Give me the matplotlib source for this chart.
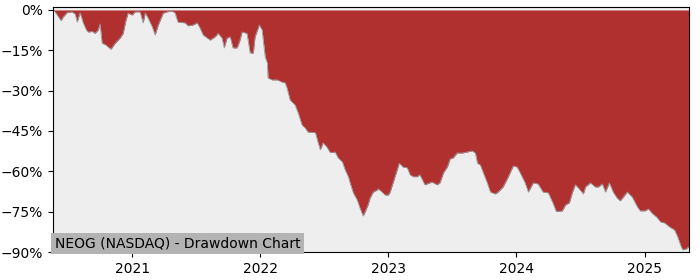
import pandas as pd
import matplotlib
matplotlib.use('Agg')
import matplotlib.pyplot as plt
import matplotlib.dates as mdates
from matplotlib.ticker import PercentFormatter, MultipleLocator

# drawdown values (%)
dates = [
    '2020-05-20', '2020-05-26', '2020-06-12', '2020-06-18', '2020-06-29', '2020-07-13',
    '2020-07-22', '2020-07-28', '2020-08-05', '2020-08-14', '2020-08-23', '2020-08-28',
    '2020-09-09', '2020-09-17', '2020-09-26', '2020-10-01', '2020-10-07', '2020-10-15',
    '2020-10-24', '2020-11-01', '2020-11-13', '2020-11-27', '2020-12-06', '2020-12-14',
    '2020-12-20', '2021-01-01', '2021-01-09', '2021-01-23', '2021-02-01', '2021-02-07',
    '2021-02-15', '2021-02-27', '2021-03-07', '2021-03-16', '2021-03-30', '2021-04-10',
    '2021-04-24', '2021-05-03', '2021-05-11', '2021-06-01', '2021-06-09', '2021-06-23',
    '2021-07-05', '2021-07-13', '2021-07-22', '2021-08-11', '2021-08-25', '2021-09-03',
    '2021-09-14', '2021-09-20', '2021-09-28', '2021-10-07', '2021-10-15', '2021-10-27',
    '2021-11-04', '2021-11-10', '2021-11-24', '2021-12-03', '2021-12-12', '2021-12-17',
    '2021-12-29', '2022-01-06', '2022-01-15', '2022-01-21', '2022-01-23', '2022-02-04',
    '2022-02-18', '2022-03-04', '2022-03-13', '2022-03-18', '2022-03-27', '2022-04-10',
    '2022-04-19', '2022-04-30', '2022-05-09', '2022-05-17', '2022-06-07', '2022-06-15',
    '2022-06-21', '2022-06-29', '2022-07-10', '2022-07-19', '2022-07-28', '2022-08-02',
    '2022-08-11', '2022-08-23', '2022-08-31', '2022-09-09', '2022-09-14', '2022-09-23',
    '2022-10-04', '2022-10-12', '2022-10-21', '2022-10-27', '2022-11-04', '2022-11-10',
    '2022-11-19', '2022-11-30', '2022-12-03', '2022-12-14', '2022-12-23', '2023-01-01',
    '2023-01-06', '2023-01-15', '2023-01-26', '2023-02-01', '2023-02-12', '2023-02-24',
    '2023-03-04', '2023-03-13', '2023-03-24', '2023-04-01', '2023-04-15', '2023-05-05',
    '2023-05-20', '2023-05-28', '2023-06-07', '2023-06-18', '2023-06-26', '2023-07-05',
    '2023-07-16', '2023-07-31', '2023-08-14', '2023-08-28', '2023-09-06', '2023-09-12',
    '2023-09-20', '2023-09-29', '2023-10-10', '2023-10-19', '2023-11-02', '2023-11-10',
    '2023-11-24', '2023-12-09', '2023-12-23', '2024-01-03', '2024-01-12', '2024-01-26',
    '2024-02-04', '2024-02-18', '2024-03-03', '2024-03-17', '2024-04-01', '2024-04-15',
    '2024-04-24', '2024-05-11', '2024-05-20', '2024-05-31', '2024-06-09', '2024-06-17',
    '2024-06-26', '2024-07-10', '2024-07-16', '2024-07-30', '2024-08-13', '2024-08-22',
    '2024-09-02', '2024-09-11', '2024-09-22', '2024-10-03', '2024-10-14', '2024-10-23',
    '2024-11-01', '2024-11-12', '2024-11-26', '2024-12-11', '2024-12-19', '2025-01-01',
    '2025-01-12', '2025-01-21', '2025-02-04', '2025-02-15', '2025-02-27', '2025-03-13',
    '2025-03-27', '2025-04-05', '2025-04-13', '2025-04-19', '2025-04-30', '2025-05-06',
]
drawdown = [
    0.0, -0.7, -4.0, -2.6, -1.0, -0.7,
    -1.5, -4.5, -1.0, -4.8, -7.4, -8.2,
    -8.0, -8.7, -7.4, -5.2, -12.4, -12.8,
    -13.7, -14.6, -12.4, -10.5, -8.7, -3.8,
    -1.2, -1.9, -0.7, -0.7, -4.8, -1.1,
    -3.0, -6.3, -9.3, -5.6, -1.2, -0.7,
    -0.4, -1.1, -4.5, -4.8, -5.9, -5.6,
    -4.8, -6.7, -9.3, -11.2, -10.0, -8.7,
    -10.5, -14.1, -10.5, -10.0, -14.1, -14.1,
    -11.2, -8.2, -8.7, -16.0, -16.0, -10.0,
    -5.6, -7.4, -17.5, -19.7, -25.3, -26.0,
    -26.0, -26.8, -27.1, -29.0, -33.5, -35.3,
    -38.3, -42.8, -43.9, -45.4, -45.6, -49.4,
    -52.0, -49.4, -51.0, -53.0, -53.0, -52.8,
    -55.0, -56.5, -59.5, -62.0, -64.3, -68.0,
    -70.6, -73.6, -76.6, -75.0, -72.5, -69.9,
    -67.7, -67.0, -66.5, -67.7, -68.8, -68.8,
    -67.7, -64.0, -59.5, -57.0, -58.4, -58.7,
    -61.3, -62.0, -62.0, -61.3, -65.0, -64.0,
    -65.0, -64.3, -60.6, -58.4, -55.4, -55.0,
    -53.2, -53.2, -52.8, -52.4, -53.2, -57.0,
    -57.6, -60.6, -64.3, -67.7, -68.4, -67.7,
    -65.8, -62.0, -58.0, -58.4, -60.6, -64.3,
    -67.7, -64.3, -64.7, -67.7, -68.0, -72.0,
    -75.0, -74.7, -72.5, -71.7, -67.7, -65.0,
    -66.2, -68.4, -65.8, -64.3, -65.8, -65.8,
    -64.7, -67.7, -64.3, -67.7, -69.9, -71.0,
    -69.5, -67.7, -69.5, -73.2, -74.7, -74.7,
    -74.0, -75.5, -77.0, -78.8, -79.2, -80.7,
    -81.8, -84.4, -87.4, -89.2, -88.8, -88.0,
]
label = 'NEOG (NASDAQ) - Drawdown Chart'

dd = pd.Series(drawdown, index=pd.to_datetime(dates))

fig = plt.figure(figsize=(7, 2.8), dpi=100)
ax = fig.add_axes([0.0757, 0.1, 0.908, 0.875])
ax.set_facecolor('#eeeeee')

ax.fill_between(dd.index, dd.values, 0, color='#b03030', linewidth=0)
ax.plot(dd.index, dd.values, color='#999999', linewidth=0.6)

ax.set_xlim(dd.index[0], dd.index[-1])
ax.set_ylim(-90, 1.1)
ax.yaxis.set_major_locator(MultipleLocator(15))
ax.yaxis.set_major_formatter(PercentFormatter(xmax=100, decimals=0))
ax.xaxis.set_major_locator(mdates.YearLocator())
ax.xaxis.set_major_formatter(mdates.DateFormatter('%Y'))

ax.text(0.003, 0.008, label, transform=ax.transAxes, fontsize=10,
        ha='left', va='bottom',
        bbox=dict(facecolor='#b3b3b3', edgecolor='none', pad=2.5))

fig.savefig('out.png', dpi=100)
